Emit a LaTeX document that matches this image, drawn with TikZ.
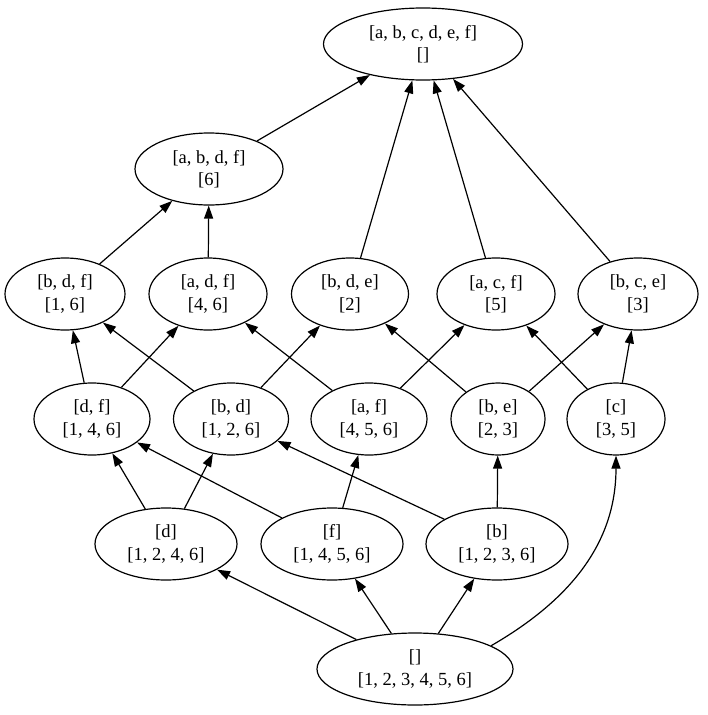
\documentclass[tikz,border=0pt]{standalone}
\usepackage{fontspec}
\setmainfont{Liberation Serif}
\usetikzlibrary{arrows.meta,shapes.geometric}

\begin{document}
\begin{tikzpicture}[x=1pt, y=-1pt,
    elp/.style={draw, ellipse, line width=1.2pt, inner sep=0pt, minimum height=72pt, align=center, font=\fontsize{18.5}{22.4}\selectfont},
    arr/.style={-{Triangle[length=13pt, width=9pt]}, line width=1.2pt}
]
\useasboundingbox (0,0) rectangle (707,715);
\node[elp, minimum width=199pt] (top) at (423,44) {[a, b, c, d, e, f]\\{[]}};
\node[elp, minimum width=148pt] (abdf) at (209,169) {[a, b, d, f]\\{[6]}};
\node[elp, minimum width=120pt] (bdf) at (65,294) {[b, d, f]\\{[1, 6]}};
\node[elp, minimum width=118pt] (adf) at (208,294) {[a, d, f]\\{[4, 6]}};
\node[elp, minimum width=117pt] (bde) at (350,294) {[b, d, e]\\{[2]}};
\node[elp, minimum width=118pt] (acf) at (496,294) {[a, c, f]\\{[5]}};
\node[elp, minimum width=120pt] (bce) at (638,294) {[b, c, e]\\{[3]}};
\node[elp, minimum width=116pt] (df) at (92,419) {[d, f]\\{[1, 4, 6]}};
\node[elp, minimum width=115pt] (bd) at (231,419) {[b, d]\\{[1, 2, 6]}};
\node[elp, minimum width=116pt] (af) at (369,419) {[a, f]\\{[4, 5, 6]}};
\node[elp, minimum width=94pt] (be) at (498,419) {[b, e]\\{[2, 3]}};
\node[elp, minimum width=98pt] (c) at (616,419) {[c]\\{[3, 5]}};
\node[elp, minimum width=142pt] (d) at (166,544) {[d]\\{[1, 2, 4, 6]}};
\node[elp, minimum width=142pt] (f) at (332,544) {[f]\\{[1, 4, 5, 6]}};
\node[elp, minimum width=142pt] (b) at (497,544) {[b]\\{[1, 2, 3, 6]}};
\node[elp, minimum width=196pt] (bot) at (415,669) {[]\\{[1, 2, 3, 4, 5, 6]}};

\draw[arr] (abdf) -- (top);
\draw[arr] (bde) -- (top);
\draw[arr] (acf) -- (top);
\draw[arr] (bce) -- (top);
\draw[arr] (bdf) -- (abdf);
\draw[arr] (adf) -- (abdf);
\draw[arr] (df) -- (bdf);
\draw[arr] (df) -- (adf);
\draw[arr] (bd) -- (bdf);
\draw[arr] (bd) -- (bde);
\draw[arr] (af) -- (adf);
\draw[arr] (af) -- (acf);
\draw[arr] (be) -- (bde);
\draw[arr] (be) -- (bce);
\draw[arr] (c) -- (acf);
\draw[arr] (c) -- (bce);
\draw[arr] (d) -- (df);
\draw[arr] (d) -- (bd);
\draw[arr] (f) -- (df);
\draw[arr] (f) -- (af);
\draw[arr] (b) -- (bd);
\draw[arr] (b) -- (be);
\draw[arr] (bot) -- (d);
\draw[arr] (bot) -- (f);
\draw[arr] (bot) -- (b);
\draw[arr] (bot.17) to[out=30, in=-90] (c.south);
\end{tikzpicture}
\end{document}
